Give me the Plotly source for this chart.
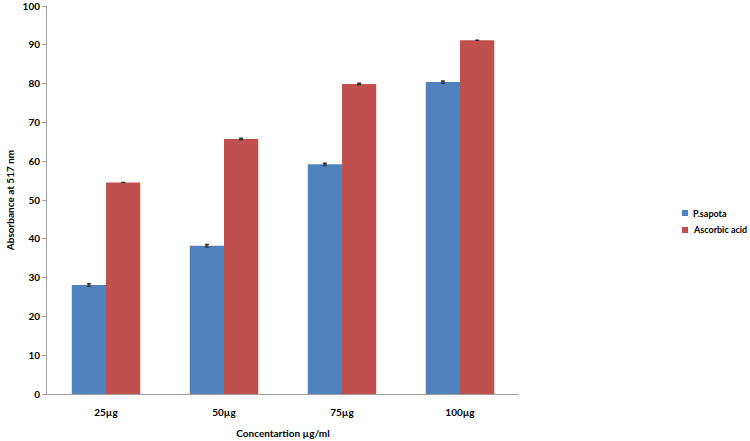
import plotly.graph_objects as go

categories = ["25µg", "50µg", "75µg", "100µg"]
series_names = ["P.sapota", "Ascorbic acid"]
psapota = [28.1, 38.2, 59.2, 80.4]
psapota_err = [0.3, 0.3, 0.3, 0.3]
ascorbic = [54.5, 65.7, 79.9, 91.2]
ascorbic_err = [None, 0.2, 0.2, None]
yticks = [0, 10, 20, 30, 40, 50, 60, 70, 80, 90, 100]
colors = ["#4F81BD", "#C0504D"]

font = "Lato"
L, R, T, B, W, H = 47, 231, 6, 47, 750, 441
pw, ph = W - L - R, H - T - B

fig = go.Figure()
for name, vals, errs, col in [(series_names[0], psapota, psapota_err, colors[0]),
                              (series_names[1], ascorbic, ascorbic_err, colors[1])]:
    fig.add_trace(go.Bar(
        name=name, x=categories, y=vals,
        marker=dict(color=col, line=dict(width=0)),
        error_y=dict(type="data", array=errs, color="#333333", thickness=1.5, width=2),
        showlegend=False,
    ))

# legend (drawn in paper coordinates)
legend_rows_px = [213, 230]
for name, col, py in zip(series_names, colors, legend_rows_px):
    yc = (H - B - py) / ph
    fig.add_shape(type="rect", xref="paper", yref="paper",
                  x0=(682 - L) / pw, x1=(688 - L) / pw,
                  y0=yc - 3 / ph, y1=yc + 3 / ph,
                  fillcolor=col, line=dict(width=0))
    fig.add_annotation(xref="paper", yref="paper", x=(691 - L) / pw, y=yc,
                       xanchor="left", yanchor="middle", showarrow=False,
                       text="<b>%s</b>" % name, font=dict(family=font, size=9, color="#000000"))

fig.update_layout(
    width=W, height=H,
    margin=dict(l=L, r=R, t=T, b=B, autoexpand=False),
    paper_bgcolor="white", plot_bgcolor="white",
    barmode="group", bargap=0.42, bargroupgap=0,
    font=dict(family=font, size=10, color="#000000"),
    showlegend=False,
    xaxis=dict(
        showline=True, linecolor="#A0A0A0", linewidth=1,
        ticks="", showgrid=False, automargin=False,
        ticklabelstandoff=9,
        tickvals=categories, ticktext=["<b>%s</b>" % c for c in categories],
        tickfont=dict(family=font, size=10),
        title=dict(text="<b>Concentartion µg/ml</b>", font=dict(family=font, size=10), standoff=12),
    ),
    yaxis=dict(
        range=[0, 100], tickvals=yticks, ticktext=["<b>%d</b>" % v for v in yticks],
        showline=True, linecolor="#A0A0A0", linewidth=1,
        ticks="outside", ticklen=4, tickcolor="#A0A0A0",
        showgrid=False, zeroline=False, automargin=False,
        ticklabeloverflow="allow",
        tickfont=dict(family=font, size=10),
        title=dict(text="<b>Absorbance at 517 nm</b>", font=dict(family=font, size=10), standoff=6),
    ),
)

fig.write_html("out.html", config={"displayModeBar": False},
               post_script="document.body.style.margin='0';")
